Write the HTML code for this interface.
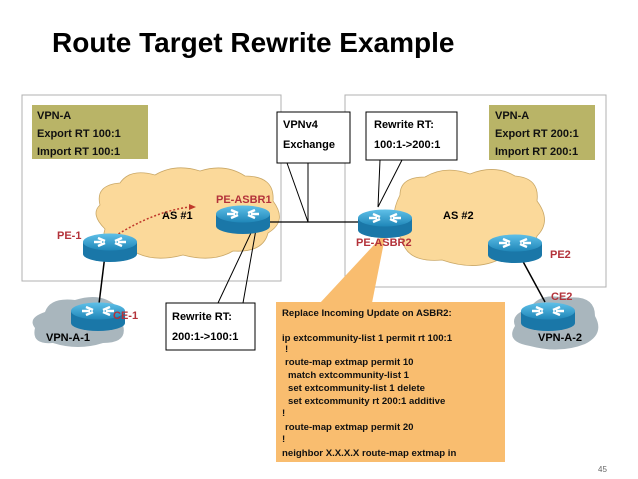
<!DOCTYPE html>
<html><head><style>
body{margin:0;background:#fff}
svg{display:block;font-family:"Liberation Sans",Arial,sans-serif;font-weight:bold}
</style></head><body>
<svg width="638" height="479" viewBox="0 0 638 479">
<defs>
<linearGradient id="rt" x1="0" y1="0" x2="0" y2="1"><stop offset="0" stop-color="#5fc0e8"/><stop offset="1" stop-color="#1f86b8"/></linearGradient>
<g id="router">
<path d="M-27,-6 v12 a27,8 0 0 0 54,0 v-12 z" fill="#1a77a8"/>
<ellipse cx="0" cy="-6" rx="27" ry="8.5" fill="url(#rt)"/>
<path d="M-12,-10 l7,3 M12,-10 l-7,3 M-12,-2 l7,-3 M12,-2 l-7,-3 M-16,-6 h8 M16,-6 h-8" stroke="#fff" stroke-width="2.5"/>
</g>
</defs>
<text x="52" y="52" font-size="28" fill="#000">Route Target Rewrite Example</text>
<rect x="22" y="95" width="259" height="186" fill="none" stroke="#b0b0b0"/>
<rect x="345" y="95" width="261" height="192" fill="none" stroke="#b0b0b0"/>
<rect x="32" y="105" width="116" height="54" fill="#b9b467"/>
<text font-size="11" fill="#111"><tspan x="37" y="119">VPN-A</tspan><tspan x="37" y="137">Export RT 100:1</tspan><tspan x="37" y="155">Import RT 100:1</tspan></text>
<rect x="489" y="105" width="106" height="55" fill="#b9b467"/>
<text font-size="11" fill="#111"><tspan x="495" y="119">VPN-A</tspan><tspan x="495" y="137">Export RT 200:1</tspan><tspan x="495" y="155">Import RT 200:1</tspan></text>
<path d="M100,205 q-5,-20 20,-22 q10,-15 35,-8 q20,-12 45,-4 q25,-8 45,5 q30,0 28,25 q15,20 -5,32 q-5,20 -35,18 q-20,12 -50,4 q-30,8 -50,-4 q-35,0 -28,-22 q-15,-15 -5,-24z" fill="#fbd99a" stroke="#caa867" stroke-width="0.8"/>
<path d="M400,195 q0,-18 25,-18 q20,-12 45,-3 q25,-10 45,2 q25,2 22,25 q15,20 0,35 q-5,25 -35,22 q-25,14 -60,2 q-35,3 -40,-20 q-15,-20 -2,-45z" fill="#fbd99a" stroke="#caa867" stroke-width="0.8"/>
<path d="M45,312 q5,-15 30,-12 q25,-8 40,5 q15,5 8,20 q5,18 -20,18 q-25,8 -50,0 q-22,2 -18,-15 q-8,-10 10,-16z" fill="#a9b6bd"/>
<path d="M530,308 q10,-16 35,-10 q30,-4 30,18 q10,18 -10,28 q-25,10 -55,2 q-25,-4 -15,-20 q-5,-12 15,-18z" fill="#a9b6bd"/>
<text x="162" y="219" font-size="11">AS #1</text>
<text x="443" y="219" font-size="11">AS #2</text>
<path d="M115,236 q40,-25 75,-29" fill="none" stroke="#c0392b" stroke-width="1.5" stroke-dasharray="2,2"/>
<path d="M189,204 l7,3 l-7,3z" fill="#c0392b"/>
<line x1="270" y1="222" x2="360" y2="222" stroke="#000" stroke-width="1.3"/>
<line x1="105" y1="255" x2="98" y2="312" stroke="#000" stroke-width="1.5"/>
<line x1="520" y1="256" x2="545" y2="302" stroke="#000" stroke-width="1.5"/>
<path d="M287,163 L308,222 L308,163" fill="none" stroke="#000"/>
<rect x="277" y="112" width="73" height="51" fill="#fff" stroke="#000"/>
<text font-size="11"><tspan x="283" y="128">VPNv4</tspan><tspan x="283" y="148">Exchange</tspan></text>
<path d="M380,160 L378,207 L402,160" fill="none" stroke="#000"/>
<rect x="366" y="112" width="91" height="48" fill="#fff" stroke="#000"/>
<text font-size="11"><tspan x="374" y="128">Rewrite RT:</tspan><tspan x="374" y="148">100:1-&gt;200:1</tspan></text>
<path d="M218,303 L258,218 L243,303" fill="none" stroke="#000"/>
<rect x="166" y="303" width="89" height="47" fill="#fff" stroke="#000"/>
<text font-size="11"><tspan x="172" y="320">Rewrite RT:</tspan><tspan x="172" y="340">200:1-&gt;100:1</tspan></text>
<path d="M320,303 L386,232 L372,303z" fill="#f9bd6f"/>
<use href="#router" x="110" y="248"/>
<use href="#router" x="243" y="220"/>
<use href="#router" x="385" y="224"/>
<use href="#router" x="515" y="249"/>
<use href="#router" x="98" y="317"/>
<use href="#router" x="548" y="317"/>
<g font-size="11" fill="#b3323a">
<text x="57" y="239">PE-1</text>
<text x="216" y="203">PE-ASBR1</text>
<text x="356" y="246">PE-ASBR2</text>
<text x="550" y="258">PE2</text>
<text x="113" y="319">CE-1</text>
<text x="551" y="300">CE2</text>
</g>
<text x="46" y="341" font-size="11">VPN-A-1</text>
<text x="538" y="341" font-size="11">VPN-A-2</text>
<rect x="276" y="302" width="229" height="160" fill="#f9bd6f"/>
<text font-size="9.6" fill="#111"><tspan x="282" y="316">Replace Incoming Update on ASBR2:</tspan><tspan x="282" y="341">ip extcommunity-list 1 permit rt 100:1</tspan><tspan x="285" y="352">!</tspan><tspan x="285" y="365">route-map extmap permit 10</tspan><tspan x="288" y="378">match extcommunity-list 1</tspan><tspan x="288" y="391">set extcommunity-list 1 delete</tspan><tspan x="288" y="404">set extcommunity rt 200:1 additive</tspan><tspan x="282" y="416">!</tspan><tspan x="285" y="430">route-map extmap permit 20</tspan><tspan x="282" y="442">!</tspan><tspan x="282" y="456">neighbor X.X.X.X route-map extmap in</tspan></text>
<text x="598" y="472" font-size="8" font-weight="normal" fill="#666">45</text>
</svg>
</body></html>
